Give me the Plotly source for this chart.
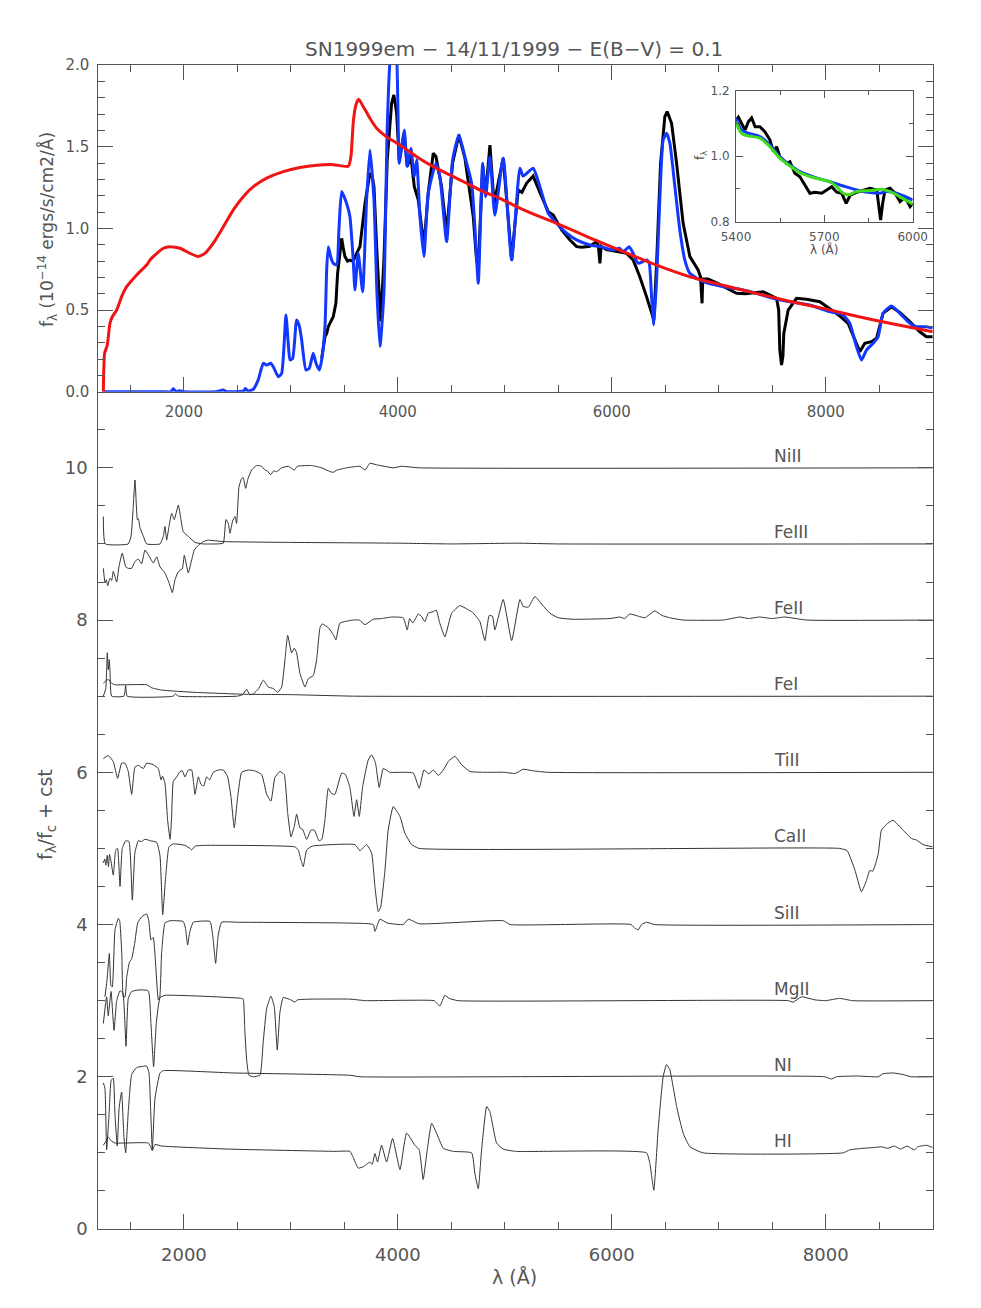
import plotly.graph_objects as go

# ---------------- top panel: observed spectrum, model, continuum ----------------
wl_red = [1247, 1259, 1284, 1309, 1331, 1372, 1418, 1465, 1559, 1652, 1683, 1714, 1808, 1870, 1964,
          2057, 2135, 2197, 2275, 2369, 2462, 2555, 2649, 2774, 2929, 3085, 3241, 3397, 3537, 3562,
          3584, 3610, 3635, 3677, 3708, 3739, 3802, 3895, 4020, 4176, 4331, 4487, 4643, 4798, 4954,
          5110, 5235, 5484, 5800, 6107, 6400, 6730, 7050, 7353, 7650, 7976, 8300, 8599, 9000]
f_red = [0.0, 0.235, 0.286, 0.419, 0.459, 0.50, 0.582, 0.643, 0.715, 0.776, 0.806, 0.827, 0.878, 0.888, 0.878,
         0.847, 0.827, 0.847, 0.909, 1.01, 1.113, 1.194, 1.255, 1.307, 1.347, 1.372, 1.386, 1.390, 1.380, 1.44,
         1.655, 1.76, 1.79, 1.745, 1.71, 1.674, 1.613, 1.56, 1.51, 1.439, 1.378, 1.327, 1.276, 1.225, 1.184,
         1.133, 1.096, 1.031, 0.94, 0.857, 0.78, 0.704, 0.65, 0.602, 0.555, 0.51, 0.46, 0.419, 0.367]

wl_mod = [1247, 1800, 1880, 1901, 1925, 1960, 2000, 2300, 2366, 2400, 2560, 2575, 2600, 2649, 2695,
          2742, 2774, 2811, 2836, 2882, 2914, 2954, 2975, 2992, 3017, 3054, 3080, 3101, 3141, 3172,
          3209, 3235, 3266, 3288, 3319, 3335, 3350, 3375, 3396, 3428, 3450, 3475, 3521, 3552, 3583,
          3599, 3630, 3671, 3708, 3739, 3777, 3805, 3833, 3870, 3901, 3930, 3960, 3989, 4013, 4036,
          4060, 4088, 4122, 4154, 4176, 4207, 4244, 4284, 4356, 4393, 4456, 4512, 4571, 4627, 4690,
          4720, 4752, 4793, 4821, 4861, 4907, 4985, 5064, 5141, 5172, 5265, 5328, 5406, 5484, 5578,
          5671, 5795, 5889, 6013, 6072, 6107, 6163, 6200, 6247, 6325, 6350, 6372, 6393, 6419, 6450,
          6480, 6512, 6543, 6590, 6636, 6683, 6730, 6854, 7041, 7228, 7353, 7508, 7664, 7851, 8037,
          8162, 8225, 8287, 8334, 8381, 8443, 8490, 8536, 8615, 8692, 8786, 8848, 8941, 9000]
f_mod = [0.0, 0.0, 0.0, 0.018, 0.0, 0.006, 0.0, 0.0, 0.01, 0.0, 0.005, 0.02, 0.004, 0.015, 0.072,
         0.174, 0.163, 0.174, 0.153, 0.092, 0.112, 0.47, 0.30, 0.194, 0.204, 0.439, 0.40, 0.317, 0.133, 0.143,
         0.235, 0.174, 0.133, 0.194, 0.398, 0.75, 0.888, 0.82, 0.786, 0.776, 1.0, 1.225, 1.153, 1.072, 0.806,
         0.623, 0.847, 0.612, 1.174, 1.48, 1.174, 0.6, 0.276, 0.602, 1.623, 2.05, 2.15, 2.05, 1.398, 1.5,
         1.602, 1.378, 1.49, 1.317, 1.419, 1.072, 0.827, 1.215, 1.398, 1.317, 0.919, 1.419, 1.572, 1.439, 1.276,
         1.01, 0.664, 1.398, 1.194, 1.439, 1.08, 1.43, 0.806, 1.368, 1.32, 1.368, 1.255, 1.092, 1.031, 0.97,
         0.929, 0.898, 0.888, 0.868, 0.878, 0.857, 0.888, 0.847, 0.786, 0.806, 0.786, 0.582, 0.408, 0.684, 1.194,
         1.541, 1.582, 1.521, 1.255, 0.99, 0.806, 0.725, 0.674, 0.643, 0.623, 0.602, 0.572, 0.551, 0.531, 0.49,
         0.47, 0.419, 0.276, 0.194, 0.255, 0.296, 0.337, 0.48, 0.525, 0.48, 0.419, 0.398, 0.398, 0.39]

wl_obs = [3288, 3319, 3335, 3350, 3396, 3421, 3437, 3452, 3475, 3490, 3506, 3530, 3552, 3575, 3590,
          3615, 3646, 3693, 3739, 3760, 3777, 3808, 3840, 3870, 3901, 3942, 3963, 3989, 4013, 4036,
          4060, 4088, 4122, 4154, 4191, 4222, 4244, 4284, 4331, 4356, 4409, 4456, 4512, 4571, 4627,
          4674, 4705, 4736, 4752, 4793, 4821, 4861, 4900, 4985, 5064, 5125, 5160, 5203, 5265, 5328,
          5406, 5453, 5531, 5609, 5671, 5720, 5795, 5858, 5875, 5889, 5900, 5950, 6045, 6139, 6200,
          6262, 6325, 6372, 6393, 6419, 6456, 6496, 6518, 6559, 6606, 6667, 6730, 6807, 6829, 6844,
          6850, 6900, 7000, 7166, 7250, 7415, 7540, 7560, 7571, 7587, 7600, 7608, 7649, 7727, 7820,
          7945, 8038, 8120, 8209, 8272, 8318, 8365, 8428, 8475, 8536, 8615, 8692, 8786, 8879, 8941, 9000]
f_obs = [0.204, 0.337, 0.357, 0.398, 0.459, 0.541, 0.725, 0.806, 0.939, 0.88, 0.827, 0.80, 0.806, 0.80, 0.81,
         0.847, 0.888, 1.153, 1.337, 1.32, 1.255, 0.806, 0.43, 0.806, 1.419, 1.766, 1.817, 1.705, 1.419, 1.50,
         1.582, 1.378, 1.44, 1.255, 1.174, 1.01, 0.888, 1.215, 1.46, 1.44, 1.255, 0.97, 1.40, 1.572, 1.43,
         1.215, 1.072, 0.806, 0.76, 1.38, 1.21, 1.51, 1.15, 1.43, 0.806, 1.235, 1.22, 1.276, 1.32, 1.22,
         1.102, 1.082, 0.99, 0.929, 0.888, 0.885, 0.89, 0.919, 0.89, 0.786, 0.89, 0.87, 0.857, 0.847, 0.806,
         0.704, 0.582, 0.48, 0.439, 0.786, 1.398, 1.684, 1.715, 1.643, 1.398, 1.031, 0.827, 0.745, 0.704, 0.541,
         0.69, 0.69, 0.66, 0.602, 0.60, 0.612, 0.572, 0.50, 0.255, 0.163, 0.22, 0.357, 0.50, 0.572, 0.566,
         0.551, 0.51, 0.47, 0.419, 0.317, 0.245, 0.296, 0.306, 0.327, 0.48, 0.52, 0.485, 0.43, 0.367, 0.337, 0.337]

# ---------------- inset (5400-6000 A) ----------------
wl_ins_obs = [5400, 5408, 5419, 5431, 5442, 5453, 5465, 5481, 5498, 5515, 5527, 5538, 5549, 5572, 5583,
              5600, 5617, 5634, 5651, 5668, 5691, 5708, 5725, 5742, 5759, 5774, 5787, 5810, 5832, 5855,
              5878, 5886, 5891, 5898, 5906, 5923, 5940, 5957, 5974, 5991, 6000]
f_ins_obs = [1.11, 1.119, 1.10, 1.08, 1.105, 1.117, 1.09, 1.09, 1.075, 1.05, 1.014, 1.029, 0.998, 0.978, 0.983,
             0.948, 0.937, 0.912, 0.887, 0.89, 0.887, 0.897, 0.907, 0.89, 0.887, 0.856, 0.88, 0.89, 0.897, 0.902,
             0.897, 0.836, 0.805, 0.856, 0.897, 0.902, 0.887, 0.861, 0.875, 0.846, 0.856]
wl_ins_mod = [5400, 5419, 5442, 5481, 5515, 5549, 5583, 5617, 5662, 5719, 5764, 5810, 5855, 5889, 5911, 5945, 6000]
f_ins_mod = [1.116, 1.08, 1.07, 1.06, 1.034, 0.998, 0.973, 0.953, 0.937, 0.922, 0.909, 0.897, 0.889, 0.887, 0.892, 0.887, 0.866]
wl_ins_mod2 = [5400, 5419, 5442, 5481, 5515, 5549, 5583, 5617, 5662, 5719, 5742, 5764, 5781, 5810, 5855, 5895, 5923, 5957, 6000]
f_ins_mod2 = [1.105, 1.07, 1.062, 1.055, 1.029, 0.994, 0.97, 0.95, 0.935, 0.922, 0.907, 0.887, 0.882, 0.892, 0.895, 0.899, 0.892, 0.876, 0.854]

# ---------------- bottom panel: f/fc per ion, offset by a constant ----------------
species = ["HI", "NI", "MgII", "SiII", "CaII", "TiII", "FeI", "FeII", "FeIII", "NiII"]
offsets = [0, 1, 2, 3, 4, 5, 6, 7, 8, 9]

wl_HI = [1247, 1270, 1293, 1320, 1356, 1667, 1690, 1705, 1730, 1792, 2415, 3412, 3552, 3580, 3630,
         3680, 3708, 3739, 3760, 3786, 3810, 3848, 3895, 3951, 4020, 4082, 4160, 4200, 4237, 4275,
         4316, 4362, 4425, 4518, 4690, 4720, 4752, 4783, 4830, 4861, 4923, 4985, 5100, 6325, 6356,
         6393, 6433, 6480, 6512, 6543, 6606, 6667, 6730, 6854, 8162, 8225, 8350, 8450, 8520, 8580,
         8640, 8700, 8760, 8800, 8833, 8860, 8941, 9000]
r_HI = [1.10, 1.15, 1.21, 1.16, 1.13, 1.13, 1.08, 1.03, 1.11, 1.09, 1.05, 1.02, 1.02, 0.95, 0.80,
        0.82, 0.85, 0.88, 0.85, 0.99, 0.88, 1.10, 0.88, 1.19, 0.78, 1.26, 1.10, 1.04, 0.65, 1.04,
        1.39, 1.26, 1.06, 1.02, 1.0, 0.73, 0.53, 1.04, 1.61, 1.54, 1.13, 1.05, 1.02, 1.0, 0.86,
        0.51, 1.30, 2.0, 2.16, 2.09, 1.61, 1.26, 1.08, 1.0, 1.0, 1.04, 1.06, 1.07, 1.08, 1.06,
        1.09, 1.05, 1.09, 1.06, 1.04, 1.08, 1.10, 1.07]

wl_NI = [1247, 1262, 1278, 1300, 1320, 1340, 1356, 1377, 1395, 1418, 1440, 1456, 1480, 1512, 1558,
         1652, 1674, 1690, 1705, 1730, 1777, 1808, 2462, 3552, 3646, 7990, 8055, 8100, 8300, 8490,
         8536, 8630, 8720, 8800, 9000]
r_NI = [0.92, 0.85, 0.04, 0.5, 0.95, 0.98, 0.5, 0.09, 0.6, 0.80, 0.20, 0.0, 0.54, 1.03, 1.12,
        1.14, 1.05, 0.54, 0.04, 0.72, 1.05, 1.08, 1.05, 1.02, 1.0, 1.0, 0.97, 1.0, 1.01, 1.0,
        1.04, 1.05, 1.03, 1.0, 1.0]

wl_MgII = [1247, 1278, 1293, 1319, 1347, 1372, 1403, 1430, 1459, 1480, 1512, 1574, 1667, 1692, 1717,
           1742, 1777, 1823, 2540, 2555, 2570, 2587, 2608, 2649, 2711, 2742, 2774, 2814, 2845, 2873,
           2898, 2929, 3000, 3038, 3060, 3200, 3550, 3700, 4340, 4362, 4393, 4440, 4480, 4560, 7650,
           7695, 7773, 7900, 8000, 8130, 8250, 9000]
r_MgII = [0.70, 1.05, 0.80, 1.12, 0.61, 1.0, 1.13, 1.10, 0.40, 1.03, 1.12, 1.14, 1.13, 0.70, 0.13,
          0.70, 1.04, 1.07, 1.03, 1.02, 0.60, 0.22, 0.02, 0.0, 0.02, 0.46, 0.90, 1.06, 0.92, 0.35,
          0.85, 1.04, 1.01, 0.98, 1.01, 1.02, 1.02, 1.0, 1.0, 0.97, 0.93, 1.07, 1.03, 1.0, 1.0,
          0.98, 1.05, 1.01, 1.0, 1.03, 1.0, 1.0]

wl_SiII = [1262, 1280, 1303, 1318, 1331, 1356, 1387, 1400, 1420, 1434, 1450, 1465, 1490, 1512, 1540,
           1568, 1605, 1652, 1672, 1692, 1714, 1730, 1761, 1775, 1792, 1823, 1870, 1994, 2015, 2035,
           2055, 2088, 2244, 2270, 2297, 2320, 2353, 2500, 3500, 3770, 3786, 3833, 3900, 4051, 4098,
           4200, 4985, 5050, 6180, 6216, 6247, 6278, 6325, 6400, 9000]
r_SiII = [0.05, 0.25, 0.62, 0.20, 0.18, 0.93, 1.08, 1.05, 0.60, 0.05, 0.05, 0.30, 0.50, 0.55, 0.75,
          1.02, 1.10, 1.14, 1.05, 0.80, 0.83, 0.60, 0.01, 0.05, 0.63, 1.02, 1.05, 1.04, 0.95, 0.73,
          0.90, 1.03, 1.04, 0.85, 0.49, 0.85, 1.03, 1.03, 1.02, 1.0, 0.91, 1.07, 1.02, 1.0, 1.07,
          1.01, 1.05, 1.0, 1.0, 0.95, 0.93, 1.0, 1.03, 1.0, 1.0]

wl_CaII = [1247, 1260, 1270, 1284, 1295, 1305, 1318, 1340, 1363, 1380, 1403, 1424, 1456, 1487, 1518,
           1543, 1574, 1605, 1636, 1690, 1746, 1777, 1802, 1830, 1861, 1901, 2010, 2057, 2073, 2104,
           2200, 3038, 3069, 3094, 3116, 3148, 3200, 3599, 3646, 3708, 3755, 3786, 3817, 3840, 3879,
           3910, 3957, 4020, 4066, 4129, 4200, 8130, 8200, 8272, 8334, 8381, 8412, 8440, 8490, 8521,
           8580, 8630, 8723, 8802, 8848, 8910, 9000]
r_CaII = [0.81, 0.86, 0.78, 0.91, 0.76, 0.92, 0.84, 0.65, 0.98, 1.0, 0.50, 1.0, 1.10, 1.09, 0.32,
          0.95, 1.10, 1.09, 1.12, 1.10, 1.08, 0.90, 0.13, 0.63, 1.02, 1.06, 1.04, 1.0, 0.98, 1.03,
          1.04, 1.02, 0.98, 0.85, 0.76, 0.98, 1.03, 1.05, 0.97, 1.05, 0.94, 0.50, 0.17, 0.23, 0.70,
          1.24, 1.55, 1.42, 1.20, 1.05, 1.0, 1.0, 0.97, 0.72, 0.43, 0.58, 0.71, 0.70, 0.92, 1.24,
          1.33, 1.37, 1.24, 1.13, 1.11, 1.05, 1.02]

wl_TiII = [1247, 1293, 1340, 1381, 1418, 1450, 1480, 1512, 1543, 1575, 1621, 1652, 1714, 1761, 1786,
           1800, 1823, 1848, 1871, 1885, 1901, 1933, 1964, 1985, 2010, 2041, 2073, 2104, 2135, 2160,
           2185, 2213, 2240, 2275, 2321, 2370, 2409, 2440, 2471, 2503, 2540, 2602, 2660, 2727, 2774,
           2814, 2851, 2898, 2938, 2970, 3001, 3032, 3054, 3085, 3110, 3148, 3188, 3220, 3263, 3290,
           3319, 3350, 3380, 3412, 3475, 3510, 3552, 3590, 3615, 3640, 3671, 3723, 3755, 3790, 3826,
           3864, 3926, 4040, 4145, 4200, 4244, 4290, 4331, 4378, 4425, 4471, 4534, 4596, 4674, 4800,
           5000, 5048, 5100, 5172, 5260, 5400, 9000]
r_TiII = [1.18, 1.22, 1.14, 0.92, 1.12, 1.12, 1.01, 0.71, 1.07, 1.09, 1.05, 1.12, 1.10, 1.05, 0.90,
          0.95, 0.86, 0.37, 0.12, 0.40, 0.88, 0.94, 1.01, 1.02, 0.94, 1.03, 1.03, 0.71, 0.94, 0.84,
          0.82, 0.94, 0.90, 1.0, 1.03, 1.03, 0.94, 0.68, 0.27, 0.68, 1.0, 1.03, 1.02, 0.97, 0.71,
          0.62, 0.93, 1.01, 0.97, 0.47, 0.15, 0.29, 0.45, 0.27, 0.25, 0.12, 0.24, 0.24, 0.10, 0.12,
          0.38, 0.79, 0.72, 0.71, 0.99, 0.97, 0.80, 0.42, 0.64, 0.42, 0.81, 1.16, 1.23, 1.13, 0.80,
          1.05, 1.0, 1.0, 0.99, 0.79, 1.03, 0.98, 1.03, 0.96, 1.03, 1.14, 1.21, 1.10, 1.01, 1.0,
          1.0, 0.99, 0.985, 1.04, 1.02, 1.0, 1.0]

wl_FeI = [1247, 1270, 1293, 1325, 1356, 1652, 1699, 1792, 2104, 2571, 3000, 3600, 9000]
r_FeI = [1.17, 1.20, 1.22, 1.17, 1.15, 1.15, 1.11, 1.08, 1.05, 1.025, 1.02, 1.0, 1.0]

wl_FeII = [1247, 1270, 1284, 1293, 1303, 1310, 1325, 1440, 1456, 1470, 1900, 1920, 1950, 2500, 2550,
           2587, 2615, 2649, 2700, 2742, 2789, 2836, 2877, 2914, 2945, 2970, 3007, 3032, 3054, 3085,
           3132, 3163, 3209, 3241, 3272, 3293, 3350, 3396, 3421, 3459, 3583, 3640, 3693, 3770, 3850,
           3942, 4050, 4088, 4110, 4140, 4191, 4220, 4253, 4284, 4331, 4360, 4390, 4440, 4503, 4580,
           4640, 4700, 4767, 4814, 4854, 4885, 4907, 4985, 5064, 5141, 5172, 5220, 5281, 5350, 5421,
           5500, 5639, 5982, 6030, 6076, 6120, 6169, 6250, 6309, 6402, 6470, 6543, 6667, 7041, 7197,
           7280, 7380, 7500, 7617, 7820, 9000]
r_FeII = [0.0, 0.10, 0.57, 0.35, 0.48, 0.30, 0.0, 0.0, 0.14, 0.0, 0.0, 0.03, 0.0, 0.0, 0.02,
          0.09, 0.02, 0.03, 0.10, 0.21, 0.12, 0.10, 0.05, 0.12, 0.48, 0.80, 0.57, 0.63, 0.57, 0.30,
          0.12, 0.23, 0.27, 0.48, 0.90, 0.95, 0.90, 0.81, 0.74, 0.96, 1.0, 1.0, 0.94, 1.01, 1.02,
          1.04, 1.03, 0.87, 1.02, 0.96, 1.08, 1.05, 0.98, 1.09, 1.11, 1.13, 0.97, 0.78, 1.09, 1.19,
          1.15, 1.10, 0.98, 0.73, 1.06, 1.05, 0.87, 1.27, 0.73, 1.27, 1.18, 1.17, 1.31, 1.20, 1.09,
          1.03, 1.01, 1.02, 1.03, 1.04, 1.02, 1.08, 1.05, 1.03, 1.12, 1.06, 1.03, 1.0, 1.0, 1.04,
          1.02, 1.04, 1.02, 1.04, 1.0, 1.0]

wl_FeIII = [1247, 1263, 1275, 1288, 1309, 1325, 1340, 1372, 1393, 1424, 1456, 1480, 1512, 1543, 1574,
            1605, 1636, 1667, 1714, 1746, 1777, 1823, 1861, 1892, 1917, 1942, 1965, 1985, 2004, 2041,
            2073, 2097, 2135, 2181, 2228, 2300, 2384, 3000, 4000, 4500, 5110, 5500, 9000]
r_FeIII = [0.68, 0.49, 0.53, 0.45, 0.55, 0.52, 0.64, 0.50, 0.70, 0.88, 0.70, 0.68, 0.68, 0.77, 0.80,
           0.74, 0.92, 0.86, 0.75, 0.83, 0.70, 0.62, 0.49, 0.36, 0.53, 0.62, 0.66, 0.67, 0.85, 0.62,
           0.79, 0.92, 0.98, 1.03, 1.05, 1.04, 1.03, 1.02, 1.01, 1.0, 1.01, 1.0, 1.0]

wl_NiII = [1247, 1265, 1480, 1506, 1525, 1543, 1556, 1565, 1575, 1590, 1621, 1652, 1777, 1808, 1823,
           1839, 1861, 1886, 1910, 1948, 1973, 1994, 2041, 2104, 2180, 2300, 2368, 2393, 2415, 2431,
           2455, 2478, 2493, 2515, 2540, 2555, 2577, 2600, 2633, 2680, 2727, 2758, 2780, 2811, 2840,
           2867, 2914, 2976, 3032, 3060, 3194, 3288, 3350, 3396, 3430, 3521, 3646, 3693, 3739, 3800,
           3957, 4036, 4200, 9000]
r_NiII = [0.36, 0.0, 0.0, 0.10, 0.45, 0.84, 0.50, 0.32, 0.33, 0.21, 0.10, 0.0, 0.0, 0.10, 0.23,
          0.05, 0.23, 0.40, 0.32, 0.51, 0.32, 0.16, 0.10, 0.02, 0.0, 0.0, 0.01, 0.32, 0.27, 0.14,
          0.30, 0.36, 0.27, 0.75, 0.86, 0.87, 0.73, 0.86, 0.97, 1.03, 1.02, 0.97, 0.96, 0.91, 0.96,
          0.95, 1.0, 1.02, 0.97, 1.02, 1.03, 1.0, 0.96, 0.94, 0.97, 1.0, 1.02, 0.97, 1.06, 1.04,
          1.0, 1.02, 1.0, 1.0]

wl_species = [wl_HI, wl_NI, wl_MgII, wl_SiII, wl_CaII, wl_TiII, wl_FeI, wl_FeII, wl_FeIII, wl_NiII]
r_species = [r_HI, r_NI, r_MgII, r_SiII, r_CaII, r_TiII, r_FeI, r_FeII, r_FeIII, r_NiII]
label_wl = 7500

title_text = "SN1999em − 14/11/1999 − E(B−V) = 0.1"

# ---------------- figure ----------------
# the page adds an 8 px body margin; the figure is sized to fill the rest of the window
PAGE_W, PAGE_H, BODY = 981, 1308, 8
W, H = PAGE_W - 2 * BODY, PAGE_H - 2 * BODY
AX = "#555555"
TXT = "#555555"
FONT = "DejaVu Sans"

def px_x(p):
    return (p - BODY) / W

def px_y(p):
    return 1 - (p - BODY) / H

xdom = [px_x(98.3), px_x(932.7)]
top_dom = [px_y(391.7), px_y(65)]
bot_dom = [px_y(1229), px_y(391.7)]
ins_x = [px_x(736), px_x(912.7)]
ins_y = [px_y(221.7), px_y(90.7)]

fig = go.Figure()

fig.add_trace(go.Scatter(x=wl_obs, y=f_obs, mode="lines", line=dict(color="black", width=3),
                         xaxis="x", yaxis="y", showlegend=False))
fig.add_trace(go.Scatter(x=wl_mod, y=f_mod, mode="lines", line=dict(color="#1238ff", width=3, shape="spline", smoothing=0.5),
                         xaxis="x", yaxis="y", showlegend=False))
fig.add_trace(go.Scatter(x=wl_red, y=f_red, mode="lines", line=dict(color="#f01414", width=3, shape="spline", smoothing=0.5),
                         xaxis="x", yaxis="y", showlegend=False))

fig.add_trace(go.Scatter(x=wl_ins_obs, y=f_ins_obs, mode="lines", line=dict(color="black", width=3),
                         xaxis="x3", yaxis="y3", showlegend=False))
fig.add_trace(go.Scatter(x=wl_ins_mod, y=f_ins_mod, mode="lines", line=dict(color="#1238ff", width=3, shape="spline"),
                         xaxis="x3", yaxis="y3", showlegend=False))
fig.add_trace(go.Scatter(x=wl_ins_mod2, y=f_ins_mod2, mode="lines", line=dict(color="#3fdc1c", width=3, shape="spline"),
                         xaxis="x3", yaxis="y3", showlegend=False))

for name, off, wl, r in zip(species, offsets, wl_species, r_species):
    fig.add_trace(go.Scatter(x=wl, y=[v + off for v in r], mode="lines",
                             line=dict(color="#333333", width=1, shape="spline", smoothing=0.4),
                             xaxis="x2", yaxis="y2", showlegend=False, name=name))

annotations = []
for name, off in zip(species, offsets):
    annotations.append(dict(x=label_wl, y=off + 1, xref="x2", yref="y2", text=name, showarrow=False,
                            xanchor="left", yanchor="bottom", font=dict(family=FONT, size=17, color=TXT)))

annotations += [
    dict(x=px_x(514), y=px_y(49), xref="paper", yref="paper", text=title_text, showarrow=False,
         font=dict(family=FONT, size=20, color=TXT), xanchor="center", yanchor="middle"),
    dict(x=px_x(48), y=px_y(230), xref="paper", yref="paper",
         text="f<sub>λ</sub> (10<sup>−14</sup> ergs/s/cm2/Å)", showarrow=False, textangle=-90,
         font=dict(family=FONT, size=17, color=TXT), xanchor="center", yanchor="middle"),
    dict(x=px_x(46), y=px_y(815), xref="paper", yref="paper",
         text="f<sub>λ</sub>/f<sub>c</sub> + cst", showarrow=False, textangle=-90,
         font=dict(family=FONT, size=19, color=TXT), xanchor="center", yanchor="middle"),
    dict(x=px_x(515), y=px_y(1277), xref="paper", yref="paper", text="λ (Å)", showarrow=False,
         font=dict(family=FONT, size=19, color=TXT), xanchor="center", yanchor="middle"),
    dict(x=px_x(701), y=px_y(156), xref="paper", yref="paper", text="f<sub>λ</sub>", showarrow=False,
         textangle=-90, font=dict(family=FONT, size=12, color=TXT), xanchor="center", yanchor="middle"),
    dict(x=px_x(824), y=px_y(250), xref="paper", yref="paper", text="λ (Å)", showarrow=False,
         font=dict(family=FONT, size=12, color=TXT), xanchor="center", yanchor="middle"),
]

common = dict(showline=True, linecolor=AX, linewidth=1, ticks="inside", tickcolor=AX, tickwidth=1,
              showgrid=False, zeroline=False, automargin=False)

fig.update_layout(
    width=W, height=H, margin=dict(l=0, r=0, t=0, b=0, pad=0, autoexpand=False),
    paper_bgcolor="white", plot_bgcolor="white",
    showlegend=False,
    annotations=annotations,
    xaxis=dict(domain=xdom, anchor="y", range=[1200, 9000], tick0=0, dtick=2000, ticklen=15,
               mirror="allticks", tickfont=dict(family=FONT, size=15, color=TXT), ticklabelstandoff=6,
               minor=dict(ticks="inside", dtick=500, tick0=0, ticklen=7, tickcolor=AX), **common),
    yaxis=dict(domain=top_dom, anchor="x", range=[0, 2.0], tick0=0, dtick=0.5, tickformat=".1f", ticklen=15,
               mirror="allticks", tickfont=dict(family=FONT, size=15, color=TXT), ticklabelstandoff=5,
               minor=dict(ticks="inside", dtick=0.1, tick0=0, ticklen=7, tickcolor=AX), **common),
    xaxis2=dict(domain=xdom, anchor="y2", range=[1200, 9000], tick0=0, dtick=2000, ticklen=15,
                mirror=False, tickfont=dict(family=FONT, size=18, color=TXT), ticklabelstandoff=9,
                minor=dict(ticks="inside", dtick=500, tick0=0, ticklen=7, tickcolor=AX), **common),
    yaxis2=dict(domain=bot_dom, anchor="x2", range=[0, 11], tick0=0, dtick=2, ticklen=15,
                mirror="allticks", tickfont=dict(family=FONT, size=18, color=TXT), ticklabelstandoff=6,
                minor=dict(ticks="inside", dtick=0.5, tick0=0, ticklen=7, tickcolor=AX), **common),
    xaxis3=dict(domain=ins_x, anchor="y3", range=[5400, 6000], tick0=5400, dtick=300, ticklen=7,
                mirror="allticks", tickfont=dict(family=FONT, size=12, color=TXT), ticklabelstandoff=4,
                minor=dict(ticks="inside", dtick=150, tick0=5400, ticklen=4, tickcolor=AX), **common),
    yaxis3=dict(domain=ins_y, anchor="x3", range=[0.8, 1.2], tick0=0.8, dtick=0.2, tickformat=".1f", ticklen=7,
                mirror="allticks", tickfont=dict(family=FONT, size=12, color=TXT), ticklabelstandoff=3,
                minor=dict(ticks="inside", dtick=0.1, tick0=0.8, ticklen=4, tickcolor=AX), **common),
)

fig.write_html("out.html")
